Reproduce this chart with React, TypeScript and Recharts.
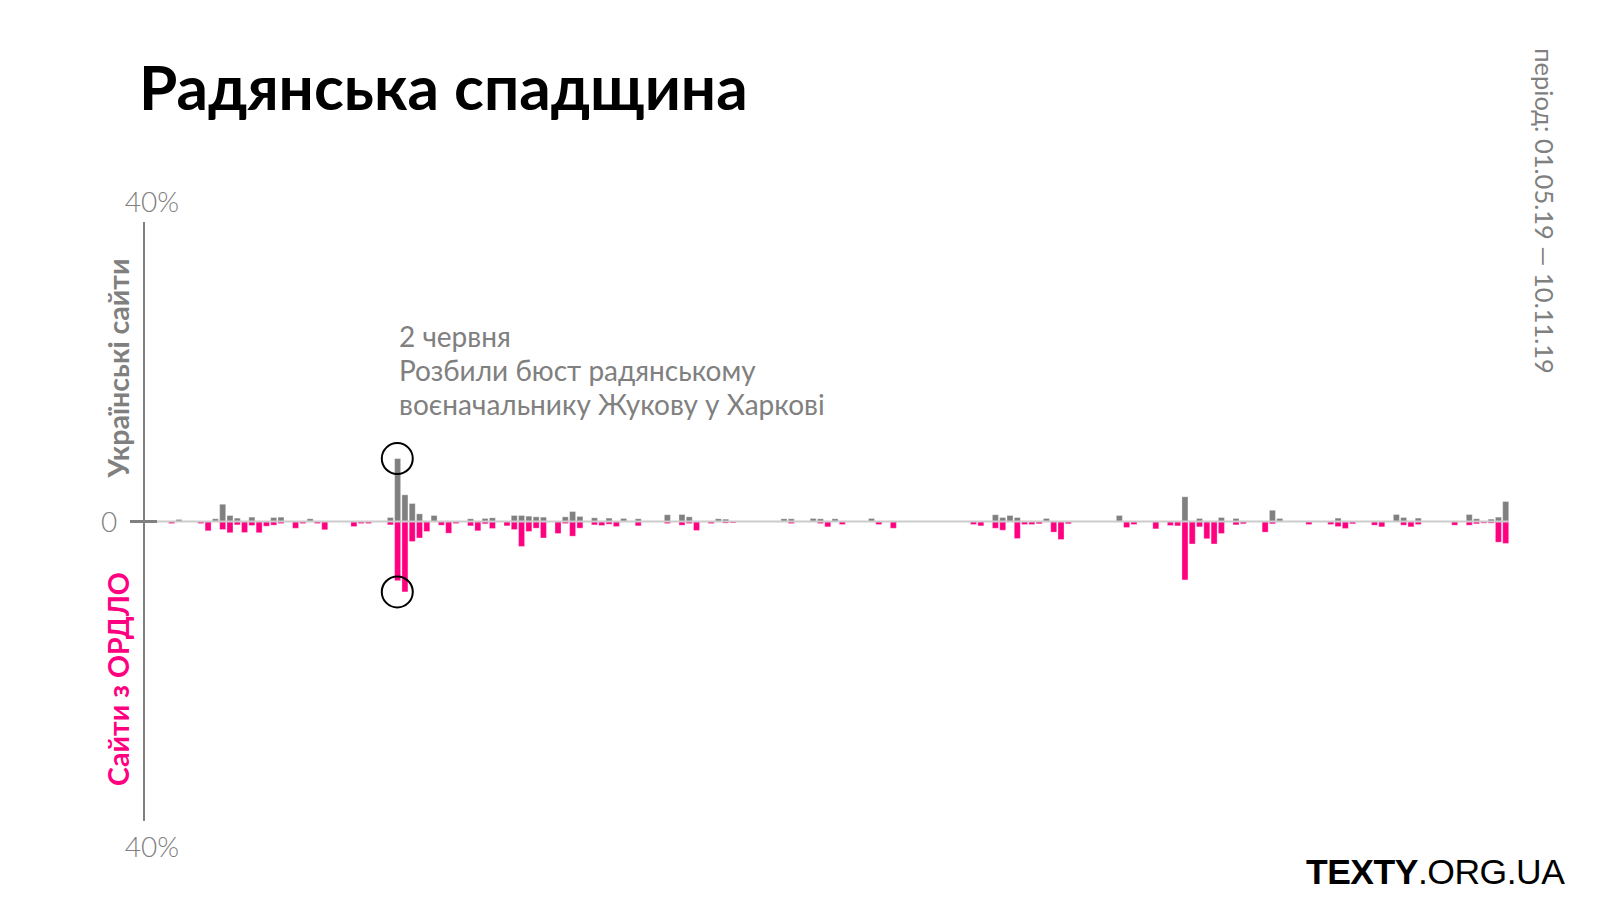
import { BarChart, Bar, XAxis, YAxis, ReferenceLine, ReferenceDot } from 'recharts';

// daily share of publications, %
const ukrainianSites = [
  0, 0.27, 0, 0, 0, 0, 0.36, 2.3, 0.8, 0.45,
  0, 0.58, 0, 0, 0.53, 0.58, 0, 0, 0, 0.36,
  0, 0, 0, 0, 0, 0, 0, 0, 0, 0,
  0.53, 8.4, 3.56, 2.4, 1.02, 0, 0.8, 0, 0, 0,
  0, 0.36, 0, 0.4, 0.49, 0, 0, 0.8, 0.8, 0.71,
  0.62, 0.58, 0, 0, 0.62, 1.33, 0.67, 0, 0.49, 0,
  0.45, 0, 0.4, 0, 0.36, 0, 0, 0, 0.9, 0,
  0.93, 0.62, 0, 0, 0, 0.36, 0.31, 0, 0, 0,
  0, 0, 0, 0, 0.36, 0.36, 0, 0, 0.4, 0.36,
  0, 0.36, 0, 0, 0, 0, 0.4, 0, 0, 0,
  0, 0, 0, 0, 0, 0, 0, 0, 0, 0,
  0, 0, 0, 0.9, 0.53, 0.8, 0.53, 0, 0, 0,
  0.4, 0, 0, 0, 0, 0, 0, 0, 0, 0,
  0.8, 0, 0, 0, 0, 0, 0, 0, 0, 3.3,
  0, 0.4, 0, 0, 0.53, 0, 0.4, 0, 0, 0,
  0, 1.5, 0.4, 0, 0, 0, 0, 0, 0, 0,
  0.45, 0, 0, 0, 0, 0, 0, 0, 0.93, 0.53,
  0, 0.45, 0, 0, 0, 0, 0, 0, 0.93, 0.36,
  0, 0.31, 0.58, 2.67,
];

const ordloSites = [
  0.27, 0, 0, 0, 0.27, 1.24, 0, 1.07, 1.5, 0.45,
  1.47, 0.53, 1.5, 0.62, 0.49, 0.27, 0, 0.9, 0.27, 0,
  0.27, 1.1, 0, 0, 0, 0.67, 0.27, 0.27, 0, 0,
  0.45, 7.9, 9.4, 2.67, 2.2, 1.33, 0, 0.49, 1.56, 0.27,
  0, 0.58, 1.24, 0.31, 0.93, 0, 0.58, 1.07, 3.33, 1.33,
  0.89, 2.2, 0, 1.6, 0.27, 1.96, 0.89, 0, 0.45, 0.53,
  0.36, 0.67, 0, 0, 0.58, 0, 0, 0, 0.27, 0,
  0.49, 0.27, 1.2, 0, 0.27, 0, 0.22, 0.2, 0, 0,
  0, 0, 0, 0, 0, 0.27, 0, 0, 0, 0.27,
  0.71, 0, 0.4, 0, 0, 0, 0, 0.4, 0, 0.9,
  0, 0, 0, 0, 0, 0, 0, 0, 0, 0,
  0.4, 0.58, 0, 0.9, 1.16, 0, 2.27, 0.4, 0.4, 0.31,
  0, 1.42, 2.4, 0.31, 0, 0, 0, 0, 0, 0,
  0, 0.8, 0.4, 0, 0, 0.98, 0, 0.53, 0.58, 7.8,
  3.0, 0.71, 2.3, 3.0, 1.6, 0, 0.45, 0.31, 0, 0,
  1.42, 0.31, 0, 0, 0, 0, 0.4, 0, 0, 0.4,
  0.67, 0.93, 0.31, 0, 0, 0.49, 0.71, 0, 0, 0.49,
  0.71, 0.4, 0, 0, 0, 0, 0.49, 0, 0.49, 0.31,
  0.22, 0.22, 2.76, 2.93,
];

const yTicks = [-40, 0, 40];
const highlightDay = 31; // 2 червня

const GRAY = '#808080';
const PINK = '#ff0080';
const FONT = "Lato, 'Open Sans', sans-serif";

const chartData = ukrainianSites.map((ua, i) => ({ day: i, ua, ordlo: -ordloSites[i] }));

function AxisTick({ x, y, payload }: any) {
  const v = payload.value;
  if (v === 0) {
    return (
      <g>
        <line x1={x - 14} x2={x + 13} y1={y} y2={y} stroke={GRAY} strokeWidth={3} />
        <text x={x - 35} y={y} dy={10} textAnchor="middle" fill={GRAY} fontSize={28} fontFamily={FONT} fontWeight={300}>0</text>
      </g>
    );
  }
  return (
    <text x={x + 8} y={v > 0 ? y - 10 : y + 36} textAnchor="middle" fill={GRAY} fontSize={28} fontFamily={FONT} fontWeight={300}>
      40%
    </text>
  );
}

export default function App() {
  return (
    <div style={{ position: 'absolute', left: 0, top: 0, width: 1600, height: 910, background: '#fff', overflow: 'hidden' }}>
      <div style={{ position: 'absolute', left: 0, top: 0 }}>
        <BarChart
          width={1530}
          height={870}
          data={chartData}
          stackOffset="sign"
          barSize={6}
          margin={{ top: 222, right: 21, bottom: 49, left: 0 }}
        >
          <XAxis dataKey="day" hide padding={{ left: 23.65, right: 0 }} />
          <YAxis
            domain={[-40, 40]}
            ticks={yTicks}
            interval={0}
            width={144}
            tickSize={0}
            tickMargin={0}
            axisLine={{ stroke: GRAY, strokeWidth: 2 }}
            tickLine={false}
            tick={<AxisTick />}
          />
          <ReferenceLine y={0} stroke="#cccccc" strokeWidth={2} />
          <Bar dataKey="ua" stackId="s" fill={GRAY} stroke="#ffffff" strokeOpacity={0.5} strokeWidth={0.6} isAnimationActive={false} />
          <Bar dataKey="ordlo" stackId="s" fill={PINK} stroke="#ffffff" strokeOpacity={0.5} strokeWidth={0.6} isAnimationActive={false} />
          <ReferenceDot x={highlightDay} y={ukrainianSites[highlightDay]} r={15.5} fill="none" stroke="#000" strokeWidth={2} />
          <ReferenceDot x={highlightDay} y={-ordloSites[highlightDay + 1]} r={15.5} fill="none" stroke="#000" strokeWidth={2} />
        </BarChart>
      </div>

      <svg width={1600} height={910} style={{ position: 'absolute', left: 0, top: 0, pointerEvents: 'none' }}>
        <text x={139} y={110} fontSize={62} fontWeight={700} fontFamily={FONT} fill="#000">Радянська спадщина</text>

        <g fontFamily={FONT} fontSize={28} fill={GRAY}>
          <text x={399} y={347}>2 червня</text>
          <text x={399} y={381}>Розбили бюст радянському</text>
          <text x={399} y={415}>воєначальнику Жукову у Харкові</text>
        </g>

        <text transform="translate(129 368) rotate(-90)" textAnchor="middle" fontSize={28.5} fontWeight={700} fontFamily={FONT} fill={GRAY}>
          Українські сайти
        </text>
        <text transform="translate(129 679) rotate(-90)" textAnchor="middle" fontSize={28.5} fontWeight={700} fontFamily={FONT} fill={PINK}>
          Сайти з ОРДЛО
        </text>

        <text transform="translate(1535 211) rotate(90)" textAnchor="middle" fontSize={25.5} fontFamily={FONT} fill={GRAY}>
          період: 01.05.19 — 10.11.19
        </text>

        <text x={1306} y={884} fontSize={35.5} fontFamily="'Liberation Sans', Arial, sans-serif" fill="#000" letterSpacing={-0.5}>
          <tspan fontWeight={700}>TEXTY</tspan>
          <tspan>.ORG.UA</tspan>
        </text>
      </svg>
    </div>
  );
}
